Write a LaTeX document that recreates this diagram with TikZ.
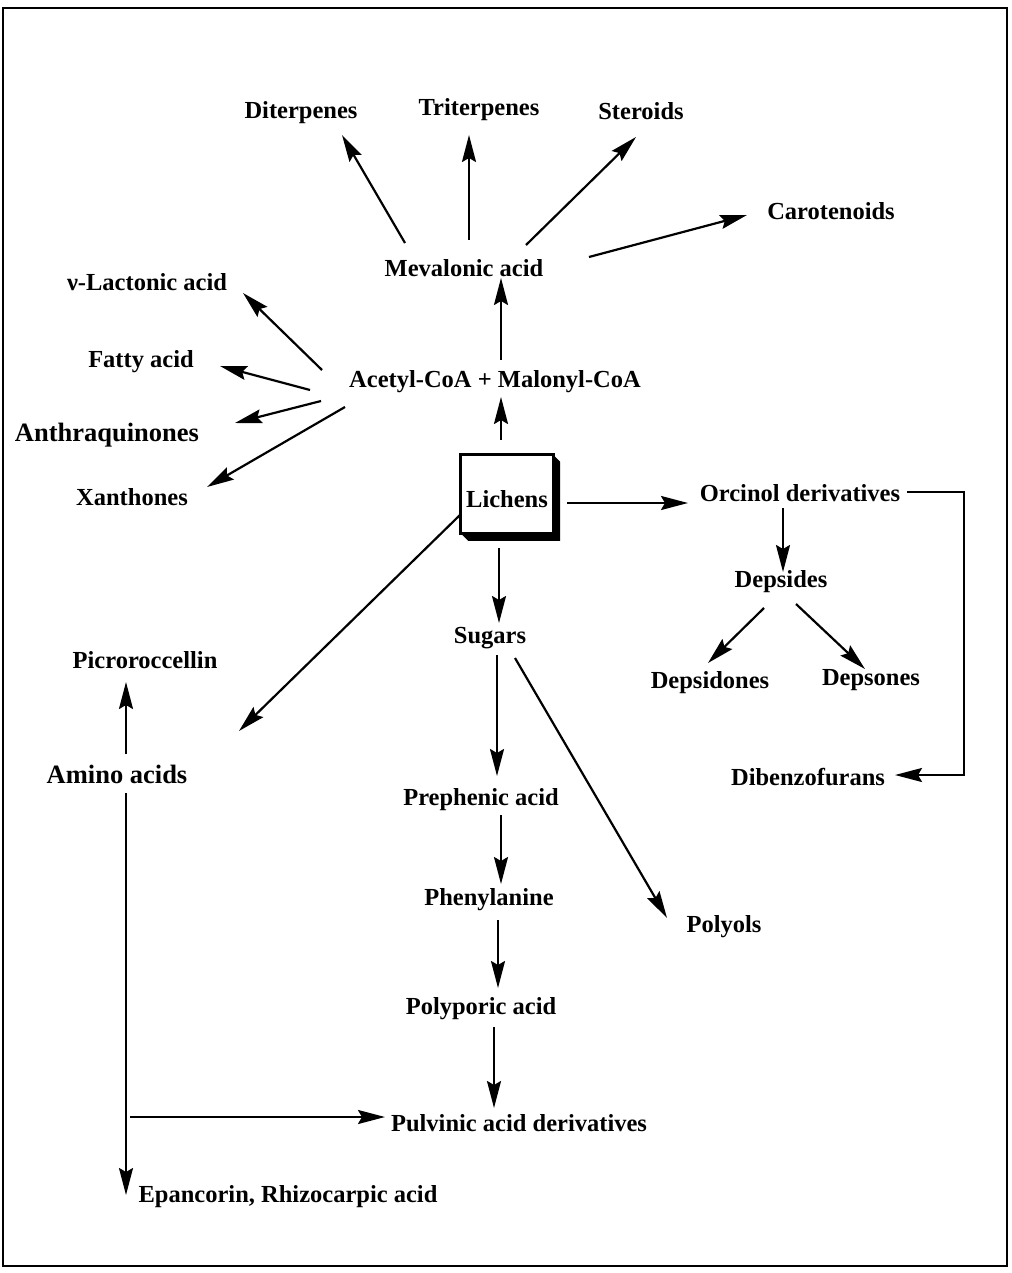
\documentclass[tikz,border=0pt]{standalone}
\usepackage{fontspec}
\setmainfont{Liberation Serif}
\usetikzlibrary{arrows.meta}
\begin{document}
\begin{tikzpicture}[x=1pt,y=-1pt,
  lbl/.style={font=\fontsize{24.5}{28}\selectfont\bfseries, inner sep=0pt},
  biglbl/.style={font=\fontsize{26.5}{30}\selectfont\bfseries, inner sep=0pt},
  arr/.style={line width=2.2pt, -{Stealth[length=27pt,width=14pt,inset=4pt]}},
  conn/.style={line width=2.2pt}]
\useasboundingbox (0,0) rectangle (1011,1273);
\draw[line width=2.8pt] (3,8) rectangle (1007,1266);

% nodes
\node[lbl] (dit) at (301,113) {Diterpenes};
\node[lbl] (tri) at (479,110) {Triterpenes};
\node[lbl] (ste) at (641,111) {Steroids};
\node[lbl] (car) at (831,211) {Carotenoids};
\node[lbl] (mev) at (464,268) {Mevalonic acid};
\node[lbl] (lac) at (147,282) {ν-Lactonic acid};
\node[lbl] (fat) at (141,362) {Fatty acid};
\node[lbl] (ace) at (495,382) {Acetyl-CoA + Malonyl-CoA};
\node[biglbl] (ant) at (107,435) {Anthraquinones};
\node[lbl] (xan) at (132,497) {Xanthones};

% Lichens box with 3D shadow
\node[lbl, minimum width=92pt, minimum height=78pt] (lich) at (507,494) {};
\fill (lich.north east) -- ++(7,7) -- ++(0,79) -- ++(-92,0) -- ++(-7,-7) -- cycle;
\draw[line width=2.8pt, fill=white] (lich.north west) rectangle (lich.south east);
\node[lbl] at ([yshift=-5pt]lich.center) {Lichens};

\node[lbl] (orc) at (800,493) {Orcinol derivatives};
\node[lbl] (dep) at (781,582) {Depsides};
\node[lbl] (dsd) at (710,683) {Depsidones};
\node[lbl] (dso) at (871,680) {Depsones};
\node[lbl] (dib) at (808,777) {Dibenzofurans};
\node[lbl] (sug) at (490,638) {Sugars};
\node[lbl] (pic) at (145,660) {Picroroccellin};
\node[biglbl] (ami) at (117,774) {Amino acids};
\node[lbl] (pre) at (481,800) {Prephenic acid};
\node[lbl] (phe) at (489,900) {Phenylanine};
\node[lbl] (pol) at (724,927) {Polyols};
\node[lbl] (ppa) at (481,1009) {Polyporic acid};
\node[lbl] (pul) at (519,1123) {Pulvinic acid derivatives};
\node[lbl] (epa) at (288,1197) {Epancorin, Rhizocarpic acid};

% arrows from Mevalonic acid
\draw[arr] ([shift={(-59,-25)}]mev.center) -- ([shift={(41,22)}]dit.center);
\draw[arr] ([shift={(5,-28)}]mev.center) -- ([shift={(-10,25)}]tri.center);
\draw[arr] ([shift={(62,-23)}]mev.center) -- ([shift={(-5,26)}]ste.center);
\draw[arr] ([shift={(125,-11)}]mev.center) -- ([shift={(-84,4)}]car.center);

% arrows from Acetyl-CoA
\draw[arr] ([shift={(6,-22)}]ace.center) -- ([shift={(37,10)}]mev.center);
\draw[arr] ([shift={(-173,-12)}]ace.center) -- ([shift={(96,11)}]lac.center);
\draw[arr] ([shift={(-185,8)}]ace.center) -- ([shift={(79,4)}]fat.center);
\draw[arr] ([shift={(-174,19)}]ace.center) -- ([shift={(128,-12)}]ant.center);
\draw[arr] ([shift={(-150,25)}]ace.center) -- ([shift={(75,-10)}]xan.center);

% arrows from Lichens
\draw[arr] ([shift={(-6,-54)}]lich.center) -- ([shift={(6,15)}]ace.center);
\draw[arr] ([shift={(60,9)}]lich.center) -- ([shift={(-112,10)}]orc.center);
\draw[arr] ([shift={(-8,54)}]lich.center) -- ([shift={(9,-15)}]sug.center);
\draw[arr] ([shift={(-47,21)}]lich.center) -- ([shift={(122,-43)}]ami.center);

% Orcinol branch
\draw[arr] ([shift={(-17,15)}]orc.center) -- ([shift={(2,-10)}]dep.center);
\draw[arr] ([shift={(107,-1)}]orc.center) -- ++(57,0) |- ([shift={(87,-2)}]dib.center);
\draw[arr] ([shift={(-17,26)}]dep.center) -- ([shift={(-2,-20)}]dsd.center);
\draw[arr] ([shift={(15,22)}]dep.center) -- ([shift={(-6,-11)}]dso.center);

% Sugars branch
\draw[arr] ([shift={(7,17)}]sug.center) -- ([shift={(16,-24)}]pre.center);
\draw[arr] ([shift={(25,20)}]sug.center) -- ([shift={(-57,-9)}]pol.center);
\draw[arr] ([shift={(20,15)}]pre.center) -- ([shift={(12,-16)}]phe.center);
\draw[arr] ([shift={(9,20)}]phe.center) -- ([shift={(17,-21)}]ppa.center);
\draw[arr] ([shift={(13,18)}]ppa.center) -- ([shift={(-25,-15)}]pul.center);

% Amino acids branch
\draw[arr] ([shift={(9,-20)}]ami.center) -- ([shift={(-19,22)}]pic.center);
\draw[arr] ([shift={(9,19)}]ami.center) -- ([shift={(-162,-2)}]epa.center);
\draw[arr] ([shift={(13,343)}]ami.center) -- ([shift={(-134,-6)}]pul.center);
\end{tikzpicture}
\end{document}
